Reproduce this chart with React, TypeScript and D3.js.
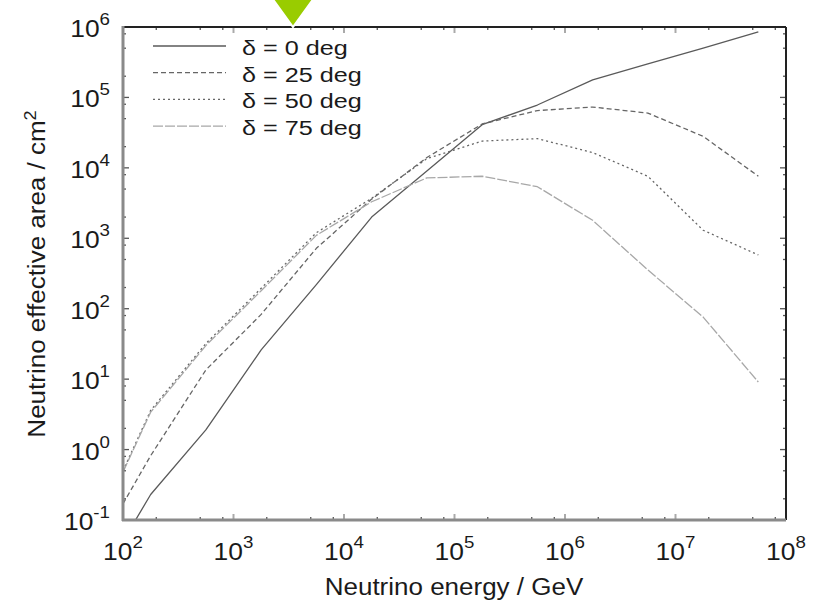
import React from 'react';
import * as d3 from 'd3';

// Neutrino energies (GeV)
const energies = [1e2, 1.78e2, 5.62e2, 1.78e3, 5.62e3, 1.78e4, 5.62e4, 1.78e5, 5.62e5, 1.78e6, 5.62e6, 1.78e7, 5.62e7];

// Effective areas (cm^2) for each declination
const area0 = [0.05, 0.23, 1.9, 26, 220, 2000, 9000, 41000, 78000, 178000, 300000, 500000, 850000];
const area25 = [0.17, 0.82, 13.5, 83, 720, 3600, 14000, 42000, 65000, 73000, 60000, 28000, 7600];
const area50 = [0.5, 3.6, 32, 195, 1200, 3700, 13500, 24000, 26000, 16500, 7600, 1300, 580];
const area75 = [0.48, 3.4, 30, 180, 1100, 3300, 7200, 7600, 5400, 1800, 355, 76, 9.1];

const seriesNames = ['δ = 0 deg', 'δ = 25 deg', 'δ = 50 deg', 'δ = 75 deg'];

const xTickExps = [2, 3, 4, 5, 6, 7, 8];
const yTickExps = [-1, 0, 1, 2, 3, 4, 5, 6];
const minorMultipliers = [2, 5, 8];

const xTitle = 'Neutrino energy / GeV';
const yTitle = 'Neutrino effective area / cm';

const FONT = '"Liberation Sans", Arial, Helvetica, sans-serif';

function SText({ x, y, sx = 1.13, rotate = 0, anchor = 'start', size = 22, children }: any) {
  return (
    <g transform={`translate(${x},${y}) rotate(${rotate}) scale(${sx},1)`}>
      <text x={0} y={0} textAnchor={anchor} fontSize={size} fontFamily={FONT} fill="#1a1a1a">
        {children}
      </text>
    </g>
  );
}

export default function App() {
  const W = 816;
  const H = 600;
  const L = 123, R = 786, T = 27, B = 520;

  const x = d3.scaleLog().domain([1e2, 1e8]).range([L, R]);
  const y = d3.scaleLog().domain([1e-1, 1e6]).range([B, T]);

  const series = [area0, area25, area50, area75];
  const styles = [
    { stroke: '#5a5a5a', dash: undefined, w: 1.3 },
    { stroke: '#666', dash: '5,3', w: 1.3 },
    { stroke: '#666', dash: '2,3', w: 1.3 },
    { stroke: '#a8a8a8', dash: '10,2', w: 1.3 },
  ];

  const line = d3
    .line<number>()
    .x((_, i) => x(energies[i]))
    .y((d) => y(d));

  const xMinor: number[] = [];
  for (let e = 2; e < 8; e++) minorMultipliers.forEach((m) => xMinor.push(m * Math.pow(10, e)));
  const yMinor: number[] = [];
  for (let e = -1; e < 6; e++) minorMultipliers.forEach((m) => yMinor.push(m * Math.pow(10, e)));

  const tickColor = '#555';

  return (
    <svg width={W} height={H} style={{ position: 'absolute', left: 0, top: 0, background: '#fff' }}>
      <rect x={0} y={0} width={W} height={H} fill="#fff" />
      <defs>
        <clipPath id="plotclip">
          <rect x={L} y={T} width={R - L} height={B - T} />
        </clipPath>
      </defs>

      {/* series */}
      <g clipPath="url(#plotclip)">
        {series.map((s, i) => (
          <path
            key={i}
            d={line(s) || ''}
            fill="none"
            stroke={styles[i].stroke}
            strokeWidth={styles[i].w}
            strokeDasharray={styles[i].dash}
            strokeLinejoin="round"
          />
        ))}
      </g>

      {/* ticks */}
      <g stroke={tickColor} strokeWidth={1.3}>
        {xTickExps.map((e) => {
          const px = x(Math.pow(10, e));
          return (
            <g key={'xt' + e}>
              <line x1={px} x2={px} y1={B} y2={B - 6} stroke="#aaa" strokeWidth={2} />
              <line x1={px} x2={px} y1={T} y2={T + 6} stroke="#aaa" strokeWidth={2} />
            </g>
          );
        })}
        {xMinor.map((v, i) => {
          const px = x(v);
          return (
            <g key={'xm' + i}>
              <line x1={px} x2={px} y1={B} y2={B - 3} />
              <line x1={px} x2={px} y1={T} y2={T + 3} />
            </g>
          );
        })}
        {yTickExps.map((e) => {
          const py = y(Math.pow(10, e));
          return (
            <g key={'yt' + e}>
              <line x1={L} x2={L + 6} y1={py} y2={py} />
              <line x1={R} x2={R - 6} y1={py} y2={py} />
            </g>
          );
        })}
        {yMinor.map((v, i) => {
          const py = y(v);
          return (
            <g key={'ym' + i}>
              <line x1={L} x2={L + 3} y1={py} y2={py} />
              <line x1={R} x2={R - 3} y1={py} y2={py} />
            </g>
          );
        })}
      </g>

      {/* frame */}
      <line x1={L} x2={R} y1={T} y2={T} stroke="#222" strokeWidth={2} />
      <line x1={R} x2={R} y1={T} y2={B} stroke="#222" strokeWidth={2} />
      <line x1={L} x2={L} y1={T - 1} y2={B + 1} stroke="#8a8a8a" strokeWidth={3} />
      <line x1={L - 1} x2={R} y1={B} y2={B} stroke="#8a8a8a" strokeWidth={3} />

      {/* y tick labels */}
      {yTickExps.map((e) => (
        <SText key={'yl' + e} x={110} y={y(Math.pow(10, e)) + 10} anchor="end" size={24} sx={1.1}>
          <tspan>10</tspan>
          <tspan dy={-12} fontSize={17}>{String(e)}</tspan>
        </SText>
      ))}

      {/* x tick labels */}
      {xTickExps.map((e) => (
        <SText key={'xl' + e} x={x(Math.pow(10, e))} y={560} anchor="middle" size={24} sx={1.1}>
          <tspan>10</tspan>
          <tspan dy={-12} fontSize={17}>{String(e)}</tspan>
        </SText>
      ))}

      {/* axis titles */}
      <SText x={454} y={595} anchor="middle" size={23}>{xTitle}</SText>
      <SText x={45} y={274} anchor="middle" size={23} rotate={-90}>
        <tspan>{yTitle}</tspan>
        <tspan dy={-9} fontSize={16}>2</tspan>
      </SText>

      {/* legend */}
      {seriesNames.map((name, i) => {
        const ly = 46 + i * 26.7;
        return (
          <g key={'lg' + i}>
            <line
              x1={153}
              x2={226}
              y1={ly}
              y2={ly}
              stroke={styles[i].stroke}
              strokeWidth={styles[i].w}
              strokeDasharray={styles[i].dash}
            />
            <SText x={242} y={ly + 9} size={21} sx={1.2}>{name}</SText>
          </g>
        );
      })}

      {/* green marker */}
      <polygon points="272,-2 314,-2 293,27" fill="#99cc00" stroke="#fff" strokeWidth={2} strokeLinejoin="miter" />
    </svg>
  );
}
